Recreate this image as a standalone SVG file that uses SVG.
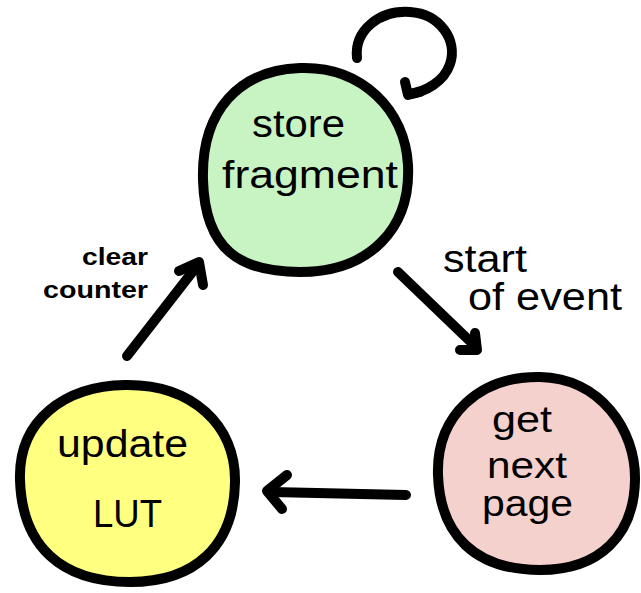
<svg xmlns="http://www.w3.org/2000/svg" width="641" height="593" viewBox="0 0 641 593">
  <style>
    .blob { stroke: #000; stroke-width: 10; stroke-linejoin: round; }
    .wire { fill: none; stroke: #000; stroke-width: 10; stroke-linecap: round; stroke-linejoin: round; }
    .lbl { font-family: "Liberation Sans", Arial, sans-serif; fill: #000; }
    .big { font-size: 38px; }
    .mid { font-size: 36px; }
    .small { font-size: 24px; font-weight: bold; }
  </style>
  <rect width="641" height="593" fill="#fff"/>

  <!-- transitions -->
  <g id="connectors">
    <!-- self loop on store fragment -->
    <path class="wire" d="M 357 58 C 354 30, 380 10, 410 12 C 440 14, 458 40, 450 64 C 444 82, 425 92, 409 94"/>
    <polyline class="wire" points="405,82 408,95 420,92"/>
    <!-- store fragment -> get next page -->
    <path class="wire" d="M 398 272 L 474 345"/>
    <polyline class="wire" points="475,333 477,350 460,350"/>
    <!-- get next page -> update LUT -->
    <path class="wire" d="M 406 495 L 272 492"/>
    <polyline class="wire" points="287,475 267,491 282,509"/>
    <!-- update LUT -> store fragment -->
    <path class="wire" d="M 127 356 L 197 266"/>
    <polyline class="wire" points="179,271 199,262 203,285"/>
  </g>

  <g id="store-fragment">
    <path class="blob" fill="#c8f4c4" d="M 300 68 C 362 66, 405 110, 408 165 C 411 228, 370 272, 300 272 C 240 272, 205 250, 203 180 C 201 110, 240 70, 300 68 Z"/>
    <text class="lbl big" x="252" y="137" textLength="93" lengthAdjust="spacingAndGlyphs">store</text>
    <text class="lbl big" x="222" y="188" textLength="176" lengthAdjust="spacingAndGlyphs">fragment</text>
  </g>

  <g id="get-next-page">
    <path class="blob" fill="#f4d1cc" d="M 540 377 C 600 378, 636 430, 635 480 C 634 535, 600 570, 540 570 C 475 570, 440 535, 438 475 C 436 415, 480 376, 540 377 Z"/>
    <text class="lbl mid" x="492" y="432" textLength="60" lengthAdjust="spacingAndGlyphs">get</text>
    <text class="lbl mid" x="487" y="478" textLength="80" lengthAdjust="spacingAndGlyphs">next</text>
    <text class="lbl mid" x="482" y="516" textLength="91" lengthAdjust="spacingAndGlyphs">page</text>
  </g>

  <g id="update-lut">
    <path class="blob" fill="#ffff80" d="M 125 385 C 192 384, 236 425, 235 482 C 234 546, 195 582, 130 582 C 60 582, 22 545, 20 480 C 18 420, 65 386, 125 385 Z"/>
    <text class="lbl big" x="57" y="457" textLength="131" lengthAdjust="spacingAndGlyphs">update</text>
    <text class="lbl big" x="93" y="527" textLength="69" lengthAdjust="spacingAndGlyphs">LUT</text>
  </g>

  <!-- transition labels -->
  <g id="labels">
    <text class="lbl small" x="82" y="265" textLength="66" lengthAdjust="spacingAndGlyphs">clear</text>
    <text class="lbl small" x="43" y="298" textLength="105" lengthAdjust="spacingAndGlyphs">counter</text>
    <text class="lbl big" x="443" y="272" textLength="84" lengthAdjust="spacingAndGlyphs">start</text>
    <text class="lbl big" x="468" y="310" textLength="154" lengthAdjust="spacingAndGlyphs">of event</text>
  </g>
</svg>
